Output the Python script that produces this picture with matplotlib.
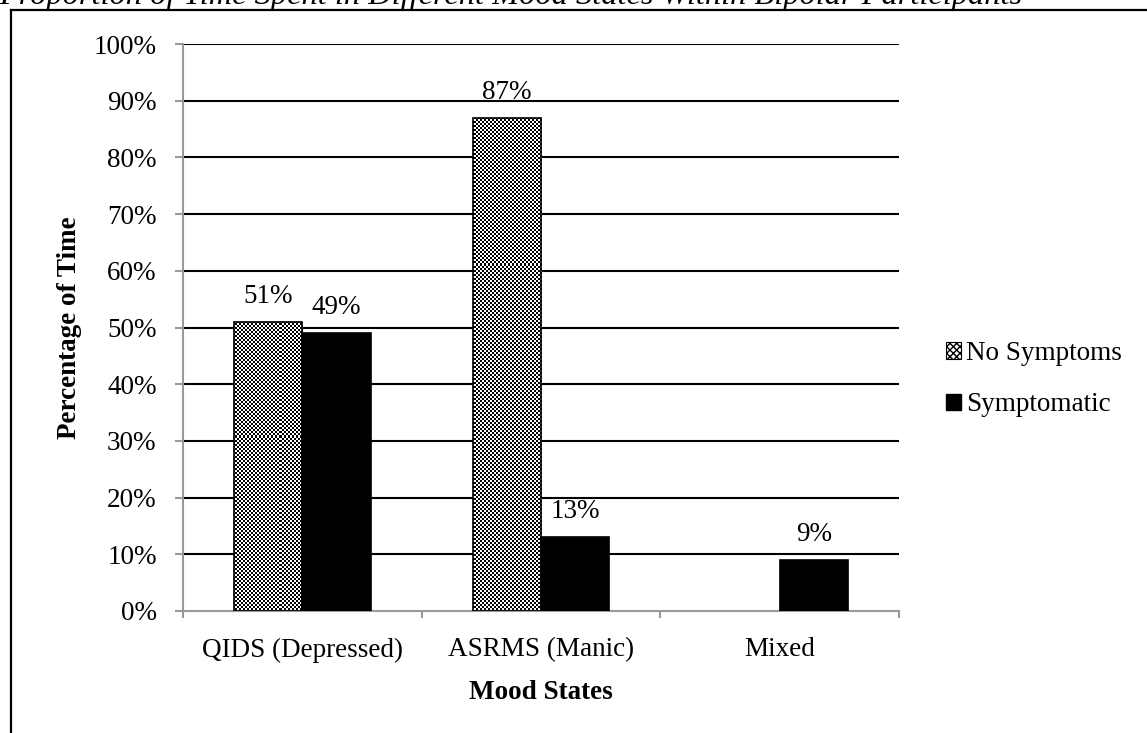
import numpy as np
import matplotlib
matplotlib.use("Agg")
import matplotlib.pyplot as plt
from matplotlib.patches import Patch
from matplotlib.lines import Line2D

plt.rcParams['font.family'] = ['Liberation Serif', 'DejaVu Serif']

# mood state categories and percentage of time in each
categories = ["QIDS (Depressed)", "ASRMS (Manic)", "Mixed"]
no_symptoms = [51, 87, 0]
symptomatic = [49, 13, 9]
series_names = ["No Symptoms", "Symptomatic"]
y_ticks = [0, 10, 20, 30, 40, 50, 60, 70, 80, 90, 100]

W, H = 1147, 733
fig = plt.figure(figsize=(W / 100, H / 100), dpi=100)
ax = fig.add_axes([183 / W, 122 / H, 716 / W, 567 / H])

FS = 19.5
axis_gray = "#9a9a9a"
bar_w = 0.287
x = np.arange(len(categories))

ax.set_xlim(-0.5, len(categories) - 0.5)
ax.set_ylim(0, 100)

# black horizontal gridlines behind the bars
for t in y_ticks[1:]:
    ax.axhline(t, color="black", lw=1.5, zorder=0.5)

bars_a = ax.bar(x - bar_w / 2, no_symptoms, bar_w, facecolor="none",
                edgecolor="black", lw=1.2, zorder=3)
bars_b = ax.bar(x + bar_w / 2, symptomatic, bar_w, facecolor="black",
                edgecolor="black", lw=1.2, zorder=3)
for bars, vals in ((bars_a, no_symptoms), (bars_b, symptomatic)):
    for b, v in zip(bars, vals):
        if v <= 0:
            b.set_visible(False)

# checkerboard fill for the "No Symptoms" bars, clipped to each bar
rows, cols = 567, 716
yy, xx = np.mgrid[0:rows, 0:cols]
checker = ((yy // 2 + xx // 2) % 2).astype(float)
for b, v in zip(bars_a, no_symptoms):
    if v <= 0:
        continue
    im = ax.imshow(checker, cmap="gray", vmin=0, vmax=1, interpolation="nearest",
                   extent=[-0.5, len(categories) - 0.5, 0, 100], aspect="auto",
                   zorder=2)
    im.set_clip_path(b)
ax.set_xlim(-0.5, len(categories) - 0.5)
ax.set_ylim(0, 100)

# value labels above bars
for bars, vals in ((bars_a, no_symptoms), (bars_b, symptomatic)):
    for b, v in zip(bars, vals):
        if v <= 0:
            continue
        ax.annotate(f"{v}%", (b.get_x() + b.get_width() / 2, v),
                    xytext=(0, 19), textcoords="offset pixels",
                    ha="center", va="baseline", fontsize=FS)

for s in ("top", "right"):
    ax.spines[s].set_visible(False)
for s in ("left", "bottom"):
    ax.spines[s].set_color(axis_gray)
    ax.spines[s].set_linewidth(1.5)
    ax.spines[s].set_zorder(2.5)

ax.set_yticks(y_ticks)
ax.set_yticklabels([f"{t}%" for t in y_ticks])
ax.tick_params(axis="y", length=6, width=1.5, color=axis_gray, pad=13,
               labelsize=FS)
ax.set_xticks(x)
ax.set_xticklabels(categories)
ax.set_xticks(np.arange(len(categories) + 1) - 0.5, minor=True)
ax.tick_params(axis="x", which="major", length=0, pad=19, labelsize=FS)
ax.tick_params(axis="x", which="minor", length=5, width=1.5, color=axis_gray)

ax.set_ylabel("Percentage of Time", fontsize=FS, fontweight="bold")
ax.yaxis.label.set_va("center")
ax.yaxis.set_label_coords(-0.158, 0.5)
ax.set_xlabel("Mood States", fontsize=FS, fontweight="bold")
ax.xaxis.label.set_va("baseline")
ax.xaxis.set_label_coords(0.5, -0.1552)

handles = [Patch(facecolor="white", edgecolor="black", hatch="xxxxx", lw=0.8),
           Patch(facecolor="black", edgecolor="black")]
fig.legend(handles, series_names, loc="upper left",
           bbox_to_anchor=(946 / W, 1 - 341 / H), frameon=False,
           fontsize=FS, handlelength=0.55, handleheight=0.55,
           handletextpad=0.2, labelspacing=0.97, borderpad=0, borderaxespad=0)

# surrounding frame and caption at the top edge
fig.add_artist(Line2D([11 / W, 11 / W], [-0.1, 1 - 10 / H], color="black",
                      lw=1.6, transform=fig.transFigure))
fig.add_artist(Line2D([11 / W, 1.1], [1 - 10 / H, 1 - 10 / H], color="black",
                      lw=1.6, transform=fig.transFigure))
fig.text(-1 / W, 1 - 4 / H,
         "Proportion of Time Spent in Different Mood States Within Bipolar Participants",
         fontsize=23.3, style="italic", ha="left", va="baseline")

fig.savefig("out.png", dpi=100)
